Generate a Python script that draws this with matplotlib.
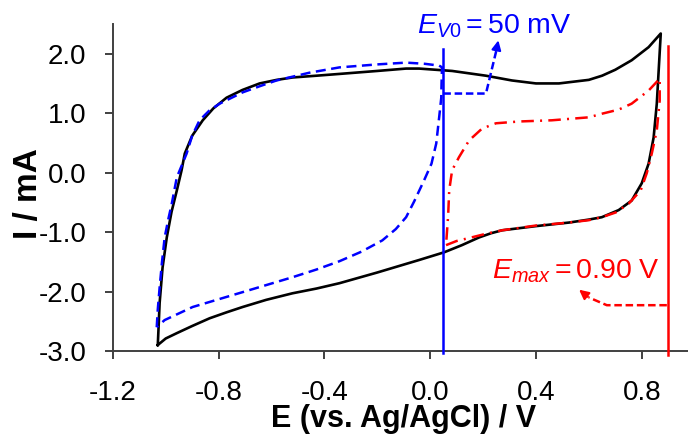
import numpy as np
import matplotlib.pyplot as plt

plt.rcParams['font.family'] = ['Liberation Sans', 'DejaVu Sans']
plt.rcParams['mathtext.fontset'] = 'custom'
plt.rcParams['mathtext.rm'] = 'Liberation Sans'
plt.rcParams['mathtext.it'] = 'Liberation Sans:italic'

# full window CV (black), closed loop
e_full = [-1.030, -1.027, -1.023, -1.012, -0.996, -0.978, -0.958, -0.940, -0.928, -0.900,
          -0.860, -0.820, -0.770, -0.710, -0.645, -0.580, -0.521, -0.430, -0.343, -0.200,
          -0.091, -0.042, 0.083, 0.211, 0.309, 0.400, 0.487, 0.600, 0.650, 0.700,
          0.762, 0.826, 0.872,
          0.864, 0.857, 0.845, 0.826, 0.800, 0.762, 0.713, 0.649, 0.600, 0.525,
          0.400, 0.272, 0.230, 0.185, 0.120, 0.053, -0.042, -0.200, -0.343, -0.430,
          -0.521, -0.620, -0.709, -0.770, -0.834, -0.900, -0.958, -1.000, -1.030]
i_full = [-2.90, -2.60, -2.19, -1.60, -1.09, -0.66, -0.30, 0.04, 0.32, 0.62,
          0.88, 1.08, 1.26, 1.39, 1.50, 1.56, 1.60, 1.63, 1.66, 1.71,
          1.75, 1.75, 1.71, 1.63, 1.55, 1.50, 1.50, 1.56, 1.63, 1.73,
          1.89, 2.11, 2.34,
          1.71, 1.16, 0.59, 0.15, -0.18, -0.47, -0.63, -0.75, -0.79, -0.84,
          -0.90, -0.97, -1.02, -1.09, -1.22, -1.34, -1.47, -1.68, -1.86, -1.95,
          -2.03, -2.14, -2.26, -2.35, -2.45, -2.58, -2.70, -2.79, -2.90]

# negative window CV (blue dashed)
e_neg = [-1.034, -1.030, -1.023, -1.014, -1.004, -0.990, -0.977, -0.958, -0.921, -0.900,
         -0.872, -0.836, -0.796, -0.709, -0.640, -0.581, -0.457, -0.343, -0.200, -0.091,
         -0.020, 0.034, 0.045,
         0.043, 0.042, 0.034, 0.023, 0.005, -0.023, -0.060, -0.091, -0.130, -0.181,
         -0.260, -0.343, -0.430, -0.521, -0.709, -0.898, -1.004, -1.034]
i_neg = [-2.60, -2.30, -1.93, -1.50, -1.09, -0.78, -0.52, -0.08, 0.32, 0.62,
         0.88, 1.04, 1.16, 1.35, 1.46, 1.55, 1.68, 1.77, 1.82, 1.85,
         1.83, 1.80, 1.77,
         1.50, 1.26, 0.93, 0.49, 0.15, -0.13, -0.48, -0.75, -0.95, -1.14,
         -1.33, -1.49, -1.63, -1.76, -2.01, -2.26, -2.48, -2.60]

# positive window CV (red dash-dot)
e_pos = [0.060, 0.100, 0.147, 0.210, 0.272, 0.400, 0.525, 0.600, 0.649, 0.702,
         0.751, 0.796, 0.819, 0.838, 0.857, 0.868, 0.868,
         0.826, 0.762, 0.713, 0.649, 0.600, 0.460, 0.336, 0.249, 0.196,
         0.147, 0.109, 0.083, 0.072, 0.068, 0.060]
i_pos = [-1.22, -1.15, -1.10, -1.03, -0.97, -0.89, -0.84, -0.80, -0.75, -0.67,
         -0.52, -0.30, -0.01, 0.32, 0.71, 1.21, 1.58,
         1.38, 1.16, 1.06, 0.99, 0.93, 0.88, 0.86, 0.83, 0.74,
         0.54, 0.26, 0.04, -0.30, -0.72, -1.22]

e_v0 = 0.05
e_max = 0.90

xticks = [-1.2, -0.8, -0.4, 0.0, 0.4, 0.8]
yticks = [-3.0, -2.0, -1.0, 0.0, 1.0, 2.0]

fig = plt.figure(figsize=(6.88, 4.36), dpi=100)
ax = fig.add_axes([0.164, 0.195, 0.836, 0.75])

ax.plot(e_full, i_full, color='black', lw=1.9, zorder=3)
ax.plot(e_neg, i_neg, color='blue', lw=1.8, ls=(0, (4, 2.2)), zorder=4)
ax.plot(e_pos, i_pos, color='red', lw=1.8, ls=(0, (5, 2.5, 0.8, 2.5)), zorder=4)

ax.plot([e_v0, e_v0], [2.08, -3.03], color='blue', lw=1.8, clip_on=False, zorder=5)
ax.plot([e_max, e_max], [2.13, -3.07], color='red', lw=1.8, clip_on=False, zorder=5)

# arrows
ax.plot([e_v0, 0.211, 0.250], [1.33, 1.33, 2.05], color='blue', lw=1.8, ls=(0, (3, 1.5)), zorder=5)
ax.annotate('', xy=(0.260, 2.27), xytext=(0.249, 2.03),
            arrowprops=dict(arrowstyle='-|>', color='blue', lw=1.5, mutation_scale=14))
ax.plot([e_max - 0.005, 0.668, 0.600], [-2.23, -2.23, -2.10], color='red', lw=1.8, ls=(0, (3, 1.5)), zorder=5)
ax.annotate('', xy=(0.555, -1.94), xytext=(0.605, -2.12),
            arrowprops=dict(arrowstyle='-|>', color='red', lw=1.5, mutation_scale=14))

ax.text(-0.049, 2.34, r'$E_{V0}=50$ mV', color='blue', fontsize=20.5, ha='left', va='baseline')
ax.text(0.234, -1.775, r'$E_{max}=0.90$ V', color='red', fontsize=20.5, ha='left', va='baseline')

ax.set_xlim(-1.2, 0.975)
ax.set_ylim(-3.0, 2.5)
ax.set_xticks(xticks)
ax.set_xticklabels([f'{v:.1f}' for v in xticks])
ax.set_yticks(yticks)
ax.set_yticklabels([f'{v:.1f}' for v in yticks])

for s in ['top', 'right']:
    ax.spines[s].set_visible(False)
for s in ['left', 'bottom']:
    ax.spines[s].set_color('#404040')
    ax.spines[s].set_linewidth(1.4)
ax.tick_params(direction='out', length=6, width=1.4, color='#404040', labelsize=20)
ax.tick_params(axis='x', pad=15)
ax.tick_params(axis='y', pad=13)

ax.set_xlabel('E (vs. Ag/AgCl) / V', fontsize=22, fontweight='bold')
ax.xaxis.label.set_va('baseline')
ax.xaxis.set_label_coords(0.505, -0.232)
ax.set_ylabel('I / mA', fontsize=24, fontweight='bold')
ax.yaxis.set_label_coords(-0.12, 0.48)

fig.savefig('out.png', dpi=100)
